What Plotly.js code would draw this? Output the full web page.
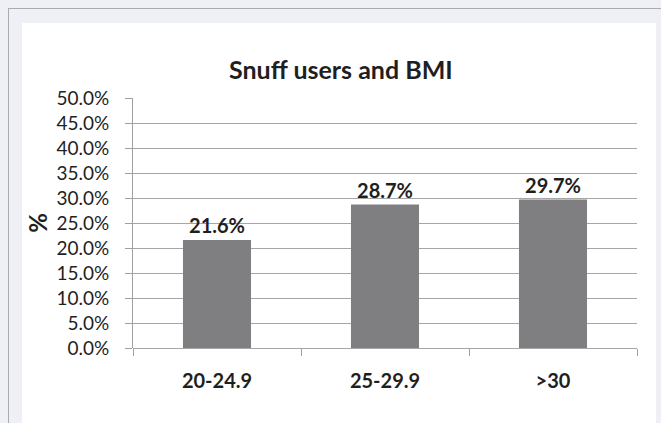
<!DOCTYPE html>
<html>
<head>
<meta charset="utf-8">
<script src="https://cdn.plot.ly/plotly-3.0.1.min.js"></script>
<style>
  html, body { margin: 0; padding: 0; width: 661px; height: 423px; overflow: hidden; background: #eff0f6; }
  #frame { position: absolute; left: 8px; top: 8px; width: 660px; height: 420px;
           border-top: 1px solid #a9aab2; border-left: 1px solid #a9aab2; }
  #chart { position: absolute; left: 22px; top: 23px; width: 634px; height: 400px; background: #fff; }
</style>
</head>
<body>
<div id="frame"></div>
<div id="chart"></div>
<script>
const chartTitle = 'Snuff users and BMI';
const categories = ['20-24.9', '25-29.9', '>30'];
const snuffShare = [0.216, 0.287, 0.297];
const yTitle = '%';

const textColor = '#1f1f1f';
const font = 'Lato, "Open Sans", sans-serif';

const data = [{
  type: 'bar',
  x: categories,
  y: snuffShare,
  marker: { color: '#7f7f81' },
  texttemplate: '%{y:.1%}',
  textposition: 'outside',
  cliponaxis: false,
  textfont: { family: font, size: 20, color: textColor, weight: 'bold' },
  hoverinfo: 'none'
}];

const layout = {
  width: 634, height: 400,
  margin: { l: 111, r: 19, t: 75, b: 75 },
  paper_bgcolor: '#ffffff',
  plot_bgcolor: '#ffffff',
  bargap: 0.595,
  showlegend: false,
  font: { family: font, color: textColor },
  title: {
    text: chartTitle,
    font: { family: font, size: 25, color: textColor, weight: 'bold' },
    xref: 'container', x: 0.503, xanchor: 'center',
    yref: 'container', y: 0.8825, yanchor: 'middle'
  },
  xaxis: {
    type: 'category',
    showline: false,
    showgrid: false,
    ticks: 'outside',
    tickson: 'boundaries',
    ticklen: 7,
    tickcolor: '#a0a0a0',
    tickwidth: 1,
    ticklabelstandoff: 19,
    tickfont: { family: font, size: 20, color: textColor, weight: 'bold' },
    zeroline: false
  },
  yaxis: {
    range: [0, 0.5],
    dtick: 0.05,
    tick0: 0,
    tickformat: '.1%',
    showline: true,
    linecolor: '#a0a0a0',
    linewidth: 1,
    showgrid: true,
    gridcolor: '#a6a6a6',
    gridwidth: 1,
    ticks: 'outside',
    ticklen: 7,
    tickcolor: '#a0a0a0',
    ticklabelstandoff: 12,
    zeroline: true,
    zerolinecolor: '#a6a6a6',
    zerolinewidth: 1,
    tickfont: { family: font, size: 19, color: textColor },
    title: { text: yTitle, standoff: 2, font: { family: font, size: 24, color: textColor, weight: 'bold' } }
  }
};

Plotly.newPlot('chart', data, layout, { displayModeBar: false, staticPlot: true });
</script>
</body>
</html>
